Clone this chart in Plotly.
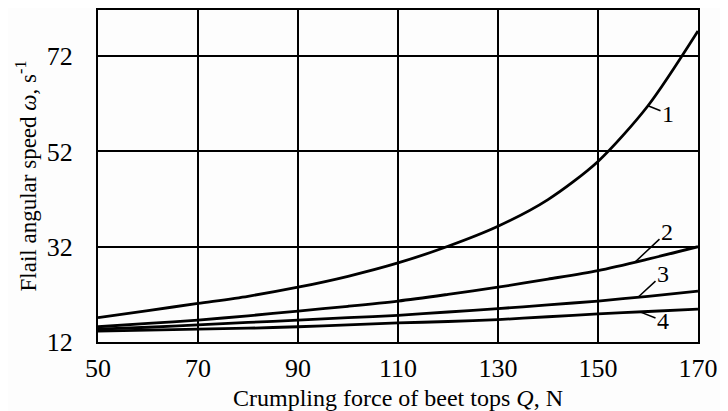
import numpy as np
import plotly.graph_objects as go

# crumpling force Q, N
force = [50, 60, 70, 80, 90, 100, 110, 120, 130, 140, 150, 160, 170]

# flail angular speed, s^-1, for the four curves
speed_1 = [17.1, 18.6, 20.1, 21.6, 23.5, 25.8, 28.6, 32.1, 36.3, 41.9, 49.9, 61.6, 77.3]
speed_2 = [15.2, 15.9, 16.6, 17.5, 18.5, 19.5, 20.6, 22.0, 23.5, 25.2, 27.0, 29.4, 32.0]
speed_3 = [14.7, 15.1, 15.6, 16.1, 16.6, 17.1, 17.6, 18.3, 19.0, 19.8, 20.6, 21.6, 22.7]
speed_4 = [14.3, 14.5, 14.7, 14.9, 15.2, 15.6, 16.0, 16.3, 16.7, 17.3, 17.9, 18.4, 18.9]

curve_names = ["1", "2", "3", "4"]
curves = [speed_1, speed_2, speed_3, speed_4]
label_at = [160, 157.4, 158, 158.4]
label_offset = [(20, 8), (32, -30), (25, -23), (23, 9)]

x_ticks = [50, 70, 90, 110, 130, 150, 170]
y_ticks = [12, 32, 52, 72]

font = "Liberation Serif, Times New Roman, serif"

fig = go.Figure()
for name, ys in zip(curve_names, curves):
    fig.add_trace(go.Scatter(x=force, y=ys, mode="lines", name=name,
                             line=dict(color="black", width=2.8, shape="spline", smoothing=0.8)))

for name, ys, xq, (dx, dy) in zip(curve_names, curves, label_at, label_offset):
    fig.add_annotation(x=xq, y=float(np.interp(xq, force, ys)), text=name,
                       showarrow=True, arrowhead=0, arrowwidth=1.5, arrowcolor="black",
                       ax=dx, ay=dy, font=dict(size=24, color="black", family=font))

fig.update_xaxes(range=[50, 170], tickvals=x_ticks,
                 title=dict(text="Crumpling force of beet tops <i>Q</i>, N", standoff=7,
                            font=dict(size=24, family=font, color="black")),
                 showgrid=True, gridcolor="black", gridwidth=1.5,
                 showline=True, linecolor="black", linewidth=2, mirror=True,
                 ticks="", ticklabelstandoff=2, zeroline=False, automargin=False)
fig.update_yaxes(range=[12, 81.7], tickvals=y_ticks,
                 title=dict(text="Flail angular speed <i>ω</i>, s<sup>-1</sup>", standoff=4,
                            font=dict(size=23, family=font, color="black")),
                 showgrid=True, gridcolor="black", gridwidth=1.5,
                 showline=True, linecolor="black", linewidth=2, mirror=True,
                 ticks="", ticklabelstandoff=18, zeroline=False, automargin=False)

# the page body adds an 8 px offset, so the margins are shifted to compensate
fig.update_layout(width=728, height=411, showlegend=False,
                  margin=dict(l=90, r=38, t=2, b=77, autoexpand=False),
                  paper_bgcolor="#fdfdfd", plot_bgcolor="#fdfdfd",
                  font=dict(family=font, size=26, color="black"))

fig.write_html("out.html")
